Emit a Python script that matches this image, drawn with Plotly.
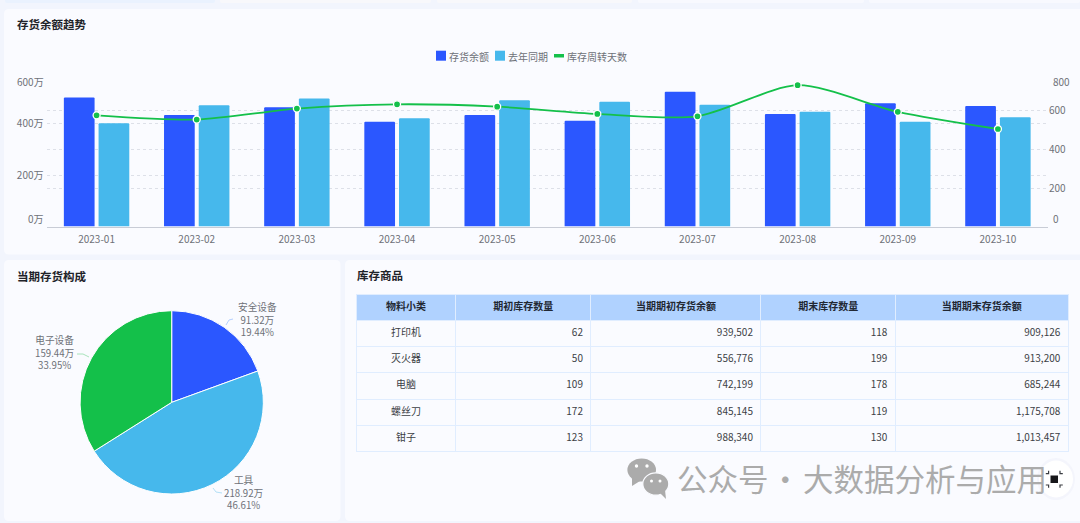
import plotly.graph_objects as go

# ---------- data ----------
months = ["2023-01","2023-02","2023-03","2023-04","2023-05","2023-06","2023-07","2023-08","2023-09","2023-10"]
balance = [502,434,464,408,434,412,524,438,480,469]
last_year = [402,472,498,421,491,485,474,447,408,425]
turnover = [577,555,612,634,622,584,572,733,595,506]

pie_names = ["安全设备","工具","电子设备"]
pie_values = [91.32,218.92,159.44]
pie_percents = ["19.44%","46.61%","33.95%"]

table_header = ["物料小类","期初库存数量","当期期初存货余额","期末库存数量","当期期末存货余额"]
table_names = ["打印机","灭火器","电脑","螺丝刀","钳子"]
open_qty = [62,50,109,172,123]
open_amt = [939502,556776,742199,845145,988340]
close_qty = [118,199,178,119,130]
close_amt = [909126,913200,685244,1175708,1013457]

left_ticks = [0,200,400,600]
right_ticks = [0,200,400,600,800]

# ---------- style ----------
W, H = 1080, 523
FONT = "Noto Sans CJK SC"
BLUE, SKY, GREEN = "#2B57FF", "#46B8EC", "#14C04A"
TXT, TITLE = "#6E7178", "#1F2329"
PAGE, CARD = "#F2F5FD", "#FAFBFF"
GRID = "#DDE0E8"

px = lambda x: x / W
py = lambda y: 1 - y / H

shapes, annos = [], []

def rrect(x0, y0, x1, y1, r, color):
    p = (f"M{px(x0+r)},{py(y0)} L{px(x1-r)},{py(y0)} Q{px(x1)},{py(y0)} {px(x1)},{py(y0+r)} "
         f"L{px(x1)},{py(y1-r)} Q{px(x1)},{py(y1)} {px(x1-r)},{py(y1)} L{px(x0+r)},{py(y1)} "
         f"Q{px(x0)},{py(y1)} {px(x0)},{py(y1-r)} L{px(x0)},{py(y0+r)} Q{px(x0)},{py(y0)} {px(x0+r)},{py(y0)} Z")
    shapes.append(dict(type="path", xref="paper", yref="paper", path=p, fillcolor=color, line_width=0, layer="below"))

def rect(x0, y0, x1, y1, color, layer="above"):
    shapes.append(dict(type="rect", xref="paper", yref="paper", x0=px(x0), x1=px(x1), y0=py(y0), y1=py(y1),
                       fillcolor=color, line_width=0, layer=layer))

def ell(cx, cy, rx, ry, color, line=None, lw=0, op=1):
    shapes.append(dict(type="circle", xref="paper", yref="paper", x0=px(cx-rx), x1=px(cx+rx), y0=py(cy+ry), y1=py(cy-ry),
                       fillcolor=color, line=dict(color=line or color, width=lw), opacity=op, layer="above"))

def poly(pts, color=None, line=None, lw=1, close=True):
    p = "M" + " L".join(f"{px(a)},{py(b)}" for a, b in pts) + (" Z" if close else "")
    shapes.append(dict(type="path", xref="paper", yref="paper", path=p, fillcolor=color or "rgba(0,0,0,0)",
                       line=dict(color=line or "rgba(0,0,0,0)", width=lw), layer="above"))

def text(x, y, s, size=10, color=TXT, anchor="center", bold=False):
    annos.append(dict(xref="paper", yref="paper", x=px(x), y=py(y - 1), text=f"<b>{s}</b>" if bold else s, showarrow=False,
                      xanchor=anchor, yanchor="middle", font=dict(family=FONT, size=size, color=color),
                      borderpad=0, borderwidth=0))

# cards
rect(0, 0, W, H, PAGE, "below")
for a, b, c in [(5,215,"#EAF2FE"),(220,431,"#F8F8FB"),(437,632,"#F8F8FB"),(638,864,"#F8F9FE"),(869,1080,"#F8F9FE")]:
    rrect(a, -6, b, 3, 2, c)
rrect(4, 9, 1090, 254.5, 5, CARD)
rrect(4, 260, 340.5, 521, 5, CARD)
rrect(345, 260, 1090, 521, 5, CARD)

# titles
text(17, 25, "存货余额趋势", 11.5, TITLE, "left", True)
text(17, 276.5, "当期存货构成", 11.5, TITLE, "left", True)
text(357, 276, "库存商品", 11.5, TITLE, "left", True)

# custom legend
rect(436, 50.7, 446, 60.7, BLUE)
text(449, 57, "存货余额", 10, TXT, "left")
rect(495, 50.7, 505, 60.7, SKY)
text(508, 57, "去年同期", 10, TXT, "left")
rect(554, 54, 564, 57.5, GREEN)
text(567, 57, "库存周转天数", 10, TXT, "left")

# axis end labels, nudged inside the plot like the original
AX_L, AX_R = 46, 1051
for v, shift in ((600, -9), (0, 8)):
    annos.append(dict(xref="paper", yref="y", x=px(AX_L), y=v, yshift=shift, text=f"{v}万", showarrow=False,
                      xanchor="right", font=dict(family=FONT, size=10, color=TXT)))
for v, shift in ((800, -9), (0, 8)):
    annos.append(dict(xref="paper", yref="y2", x=px(AX_R), y=v, yshift=shift, text=str(v), showarrow=False,
                      xanchor="left", font=dict(family=FONT, size=10, color=TXT)))

# pie labels
label_pos = [(257.7, 320.5), (244, 493.5), (55, 353.5)]
for (cx, cy), n, v, p in zip(label_pos, pie_names, pie_values, pie_percents):
    text(cx, cy, f"{n}<br>{v}万<br>{p}", 9.7)
poly([(226,325),(229,320),(233,319)], None, "#B5D0FF", 1, False)
poly([(213,488),(216,492),(222,493)], None, "#B4E0F6", 1, False)
poly([(77,354),(83,354),(89,357)], None, "#A8E4BC", 1, False)

# watermark
WM = "#ABABAB"
ell(641.7, 470, 14.3, 11.5, WM)
poly([(632,478),(632,486),(640,481)], WM)
ell(655.8, 484, 13, 11.2, WM, CARD, 1.2)
poly([(660,493),(666,499),(665,490)], WM)
for x, y, r in [(636.5,466,1.7),(647,466,1.7),(651.5,481,1.5),(660,481,1.5)]:
    ell(x, y, r, r, "#FFFFFF")

# floating button (drawn before the watermark text, which sits above shapes)
ell(1056, 479, 19, 21, "#E9ECF5", op=0.35)
ell(1056, 479, 17, 18.5, "#FFFFFF")
rect(1050.5, 475.5, 1058, 483, "#17171A")
for sx, sy in [(-1,-1),(1,-1),(-1,1),(1,1)]:
    c = (1054.3, 479.3)
    poly([(c[0]+sx*5.7, c[1]+sy*8.5), (c[0]+sx*5.7, c[1]+sy*5.7), (c[0]+sx*8.5, c[1]+sy*5.7)], None, "#3A3D42", 1.2, False)

text(677, 479, "公众号", 30.5, WM, "left")
text(785, 479, "·", 30.5, WM, "center")
text(802.5, 479, "大数据分析与应用", 30.5, WM, "left")

# ---------- figure ----------
fig = go.Figure()
fig.add_bar(x=months, y=balance, marker=dict(color=BLUE, line_width=0), name="存货余额", yaxis="y")
fig.add_bar(x=months, y=last_year, marker=dict(color=SKY, line_width=0), name="去年同期", yaxis="y")
fig.add_scatter(x=months, y=turnover, yaxis="y2", mode="lines+markers", name="库存周转天数",
                line=dict(color=GREEN, width=1.8, shape="spline", smoothing=0.75),
                marker=dict(color=GREEN, size=7, line=dict(color="#FFFFFF", width=1.3)))
fig.add_pie(labels=pie_names, values=pie_values, sort=False, direction="clockwise", rotation=0,
            marker=dict(colors=[BLUE, SKY, GREEN], line=dict(color="#FFFFFF", width=1)),
            textinfo="none", showlegend=False, hoverinfo="label+value+percent",
            domain=dict(x=[px(80), px(263.4)], y=[py(494), py(310.7)]))
fig.add_table(
    domain=dict(x=[px(356.3), px(1068.6)], y=[py(470), py(294.7)]),
    columnwidth=[99.3,135.4,170,134.4,173],
    header=dict(values=table_header, fill_color="#B0D2FF", align="center",
                line=dict(color="#E0EDFF", width=1), height=25.5,
                font=dict(family=FONT, size=10, color="#222833", weight=700)),
    cells=dict(values=[table_names,
                       open_qty,
                       [f"{v:,}" for v in open_amt],
                       close_qty,
                       [f"{v:,}" for v in close_amt]],
               fill_color=CARD, align=["center","right","right","right","right"],
               line=dict(color="#E0EDFF", width=1), height=26.3,
               font=dict(family=FONT, size=10, color="#3C3F45")),
)

fig.update_layout(
    width=W, height=H, margin=dict(l=0, r=0, t=0, b=0, pad=0), autosize=False,
    paper_bgcolor=PAGE, plot_bgcolor="rgba(0,0,0,0)", showlegend=False,
    barmode="group", bargap=0.307, bargroupgap=0.115, barcornerradius=1.5,
    font=dict(family=FONT, size=10, color=TXT),
    xaxis=dict(domain=[px(46.5), px(1048)], type="category", range=[-0.5, 9.5], showgrid=False, zeroline=False,
               showline=True, linecolor="#C8CCD6", linewidth=1, ticks="", tickfont=dict(size=10, color=TXT),
               ticklabelstandoff=3),
    yaxis=dict(domain=[py(226.6), py(72.3)], range=[0, 600], tickmode="array", tickvals=left_ticks,
               ticktext=["" if v in (0, 600) else f"{v}万" for v in left_ticks],
               showgrid=True, gridcolor=GRID, griddash="3px,3px", gridwidth=1, zeroline=False, ticks="",
               tickfont=dict(size=10, color=TXT), ticklabelstandoff=2),
    yaxis2=dict(domain=[py(226.6), py(72.3)], range=[0, 800], overlaying="y", side="right", tickmode="array",
                tickvals=right_ticks, ticktext=["" if v in (0, 800) else str(v) for v in right_ticks],
                showgrid=True, gridcolor=GRID, griddash="3px,3px", gridwidth=1, zeroline=False, ticks="",
                tickfont=dict(size=10, color=TXT)),
    shapes=shapes, annotations=annos,
)

fig.write_html("out.html", config=dict(displayModeBar=False),
               post_script="document.body.style.margin='0';document.body.style.overflow='hidden';")
